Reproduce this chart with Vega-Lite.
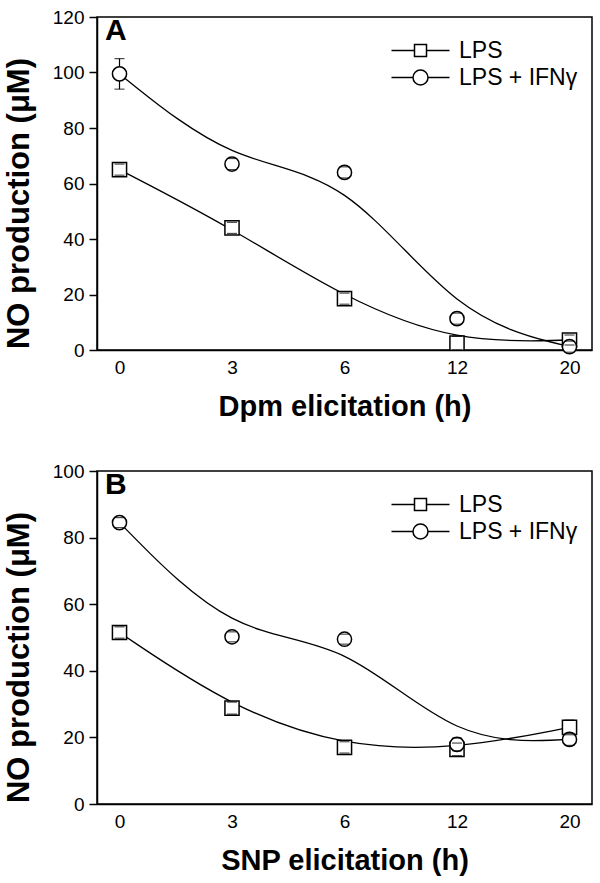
{
  "$schema": "https://vega.github.io/schema/vega-lite/v6.json",
  "background": "white",
  "padding": {"left": 2, "top": 7, "right": 5, "bottom": 5},
  "config": {
    "font": "Liberation Sans",
    "view": {"stroke": "black", "strokeWidth": 1.5},
    "axis": {
      "domainColor": "black", "domainWidth": 1.5, "tickColor": "black", "tickWidth": 1.5,
      "labelColor": "black", "titleColor": "black", "grid": false,
      "labelFont": "Liberation Sans", "titleFont": "Liberation Sans",
      "labelFontSize": 19, "titleFontSize": 29, "titleFontWeight": "bold"
    },
    "legend": {
      "title": null, "orient": "none", "legendX": 283, "legendY": 22, "padding": 0,
      "labelFontSize": 23, "labelFont": "Liberation Sans", "labelColor": "black", "rowPadding": 3,
      "symbolOffset": 29, "labelOffset": 27, "symbolSize": 4, "symbolStrokeWidth": 1.5,
      "symbolStrokeColor": "black", "symbolFillColor": "white", "symbolOpacity": 1
    }
  },
  "datasets": {
    "a": [
      {"time": 0, "series": "LPS", "value": 65, "lo": 63, "hi": 67},
      {"time": 3, "series": "LPS", "value": 44, "lo": 42, "hi": 46},
      {"time": 6, "series": "LPS", "value": 18.5, "lo": 16.5, "hi": 20.5},
      {"time": 12, "series": "LPS", "value": 2.5, "lo": 0, "hi": 5},
      {"time": 20, "series": "LPS", "value": 3.6, "lo": 1.8, "hi": 5.4},
      {"time": 0, "series": "LPS + IFNγ", "value": 99.5, "lo": 94, "hi": 105},
      {"time": 3, "series": "LPS + IFNγ", "value": 67, "lo": 65, "hi": 69},
      {"time": 6, "series": "LPS + IFNγ", "value": 64, "lo": 62, "hi": 66},
      {"time": 12, "series": "LPS + IFNγ", "value": 11.3, "lo": 9.3, "hi": 13.3},
      {"time": 20, "series": "LPS + IFNγ", "value": 1.2, "lo": -0.8, "hi": 3.2}
    ],
    "b": [
      {"time": 0, "series": "LPS", "value": 51.5, "lo": 49.8, "hi": 53.2},
      {"time": 3, "series": "LPS", "value": 28.8, "lo": 27, "hi": 30.6},
      {"time": 6, "series": "LPS", "value": 17, "lo": 15.3, "hi": 18.7},
      {"time": 12, "series": "LPS", "value": 16.4, "lo": 14.5, "hi": 18.3},
      {"time": 20, "series": "LPS", "value": 23, "lo": 20.8, "hi": 25.2},
      {"time": 0, "series": "LPS + IFNγ", "value": 84.5, "lo": 83, "hi": 86},
      {"time": 3, "series": "LPS + IFNγ", "value": 50.2, "lo": 48.7, "hi": 51.7},
      {"time": 6, "series": "LPS + IFNγ", "value": 49.5, "lo": 48, "hi": 51},
      {"time": 12, "series": "LPS + IFNγ", "value": 17.9, "lo": 16, "hi": 19.8},
      {"time": 20, "series": "LPS + IFNγ", "value": 19.4, "lo": 17.6, "hi": 21.2}
    ]
  },
  "spacing": 39,
  "resolve": {"scale": {"shape": "independent", "x": "independent", "y": "independent"}, "legend": {"shape": "independent"}},
  "vconcat": [
    {
      "width": 495, "height": 333,
      "data": {"name": "a"},
      "title": {"text": "A", "anchor": "start", "frame": "group", "offset": -38, "dx": 8, "fontSize": 30, "fontWeight": "bold", "baseline": "top", "color": "black", "font": "Liberation Sans"},
      "encoding": {
        "x": {"field": "time", "type": "ordinal", "scale": {"type": "point", "padding": 0.2},
              "axis": {"title": "Dpm elicitation (h)", "labelAngle": 0, "ticks": false, "labelPadding": 8, "titlePadding": 15}}
      },
      "resolve": {"scale": {"shape": "independent"}, "legend": {"shape": "independent"}},
      "layer": [
        {
          "mark": {"type": "line", "interpolate": "basis", "color": "black", "strokeWidth": 1.3},
          "encoding": {
            "y": {"field": "value", "type": "quantitative", "scale": {"domain": [0, 120], "nice": false},
                  "axis": {"title": "NO production (μM)", "titleAnchor": "middle", "titleY": 186, "titleFontSize": 31, "values": [0, 20, 40, 60, 80, 100, 120], "tickSize": 8, "labelPadding": 5, "titlePadding": 17}},
            "detail": {"field": "series"}
          }
        },
        {
          "mark": {"type": "rule", "color": "black", "strokeWidth": 1.2},
          "encoding": {"y": {"field": "lo", "type": "quantitative"}, "y2": {"field": "hi"}}
        },
        {
          "mark": {"type": "point", "filled": true, "fill": "white", "stroke": "black", "strokeWidth": 1.5, "size": 200, "opacity": 1},
          "encoding": {
            "y": {"field": "value", "type": "quantitative"},
            "shape": {"field": "series", "type": "nominal", "scale": {"domain": ["LPS", "LPS + IFNγ"], "range": ["square", "circle"]}, "legend": null}
          }
        },
        {
          "mark": {"type": "point", "filled": false, "color": "black", "strokeWidth": 1.5, "size": 4, "opacity": 0, "clip": true},
          "encoding": {
            "y": {"field": "value", "type": "quantitative"},
            "shape": {"field": "series", "type": "nominal", "scale": {"domain": ["LPS", "LPS + IFNγ"], "range": ["M-29,0H-6M-6,-6H6V6H-6ZM6,0H29", "M-29,0H-7.5M-7.5,0A7.5,7.5 0 1,1 7.5,0A7.5,7.5 0 1,1 -7.5,0ZM7.5,0H29"]}, "legend": {}}
          }
        },
        {
          "mark": {"type": "tick", "color": "black", "thickness": 1.2, "size": 10, "orient": "horizontal"},
          "encoding": {"y": {"field": "lo", "type": "quantitative"}}
        },
        {
          "mark": {"type": "tick", "color": "black", "thickness": 1.2, "size": 10, "orient": "horizontal"},
          "encoding": {"y": {"field": "hi", "type": "quantitative"}}
        }
      ]
    },
    {
      "width": 495, "height": 333,
      "data": {"name": "b"},
      "title": {"text": "B", "anchor": "start", "frame": "group", "offset": -38, "dx": 8, "fontSize": 30, "fontWeight": "bold", "baseline": "top", "color": "black", "font": "Liberation Sans"},
      "encoding": {
        "x": {"field": "time", "type": "ordinal", "scale": {"type": "point", "padding": 0.2},
              "axis": {"title": "SNP elicitation (h)", "labelAngle": 0, "ticks": false, "labelPadding": 8, "titlePadding": 15}}
      },
      "resolve": {"scale": {"shape": "independent"}, "legend": {"shape": "independent"}},
      "layer": [
        {
          "mark": {"type": "line", "interpolate": "basis", "color": "black", "strokeWidth": 1.3},
          "encoding": {
            "y": {"field": "value", "type": "quantitative", "scale": {"domain": [0, 100], "nice": false},
                  "axis": {"title": "NO production (μM)", "titleAnchor": "middle", "titleY": 186, "titleFontSize": 31, "values": [0, 20, 40, 60, 80, 100], "tickSize": 8, "labelPadding": 5, "titlePadding": 17}},
            "detail": {"field": "series"}
          }
        },
        {
          "mark": {"type": "rule", "color": "black", "strokeWidth": 1.2},
          "encoding": {"y": {"field": "lo", "type": "quantitative"}, "y2": {"field": "hi"}}
        },
        {
          "mark": {"type": "point", "filled": true, "fill": "white", "stroke": "black", "strokeWidth": 1.5, "size": 200, "opacity": 1},
          "encoding": {
            "y": {"field": "value", "type": "quantitative"},
            "shape": {"field": "series", "type": "nominal", "scale": {"domain": ["LPS", "LPS + IFNγ"], "range": ["square", "circle"]}, "legend": null}
          }
        },
        {
          "mark": {"type": "point", "filled": false, "color": "black", "strokeWidth": 1.5, "size": 4, "opacity": 0, "clip": true},
          "encoding": {
            "y": {"field": "value", "type": "quantitative"},
            "shape": {"field": "series", "type": "nominal", "scale": {"domain": ["LPS", "LPS + IFNγ"], "range": ["M-29,0H-6M-6,-6H6V6H-6ZM6,0H29", "M-29,0H-7.5M-7.5,0A7.5,7.5 0 1,1 7.5,0A7.5,7.5 0 1,1 -7.5,0ZM7.5,0H29"]}, "legend": {}}
          }
        },
        {
          "mark": {"type": "tick", "color": "black", "thickness": 1.2, "size": 10, "orient": "horizontal"},
          "encoding": {"y": {"field": "lo", "type": "quantitative"}}
        },
        {
          "mark": {"type": "tick", "color": "black", "thickness": 1.2, "size": 10, "orient": "horizontal"},
          "encoding": {"y": {"field": "hi", "type": "quantitative"}}
        }
      ]
    }
  ]
}
